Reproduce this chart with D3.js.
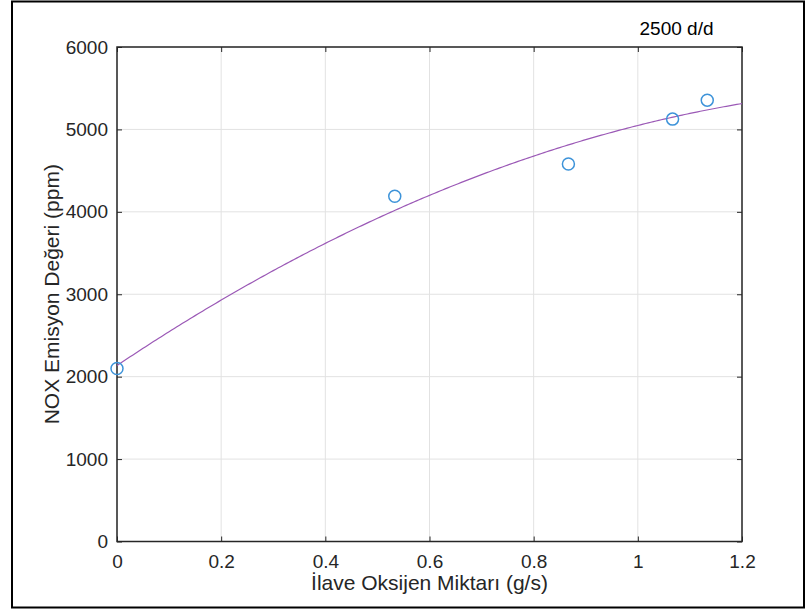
<!DOCTYPE html>
<html>
<head>
<meta charset="utf-8">
<script src="https://cdn.jsdelivr.net/npm/d3@7"></script>
<style>
  html, body { margin: 0; padding: 0; background: #fff; }
  svg { display: block; }
  text { font-family: "Liberation Sans", Arial, sans-serif; }
</style>
</head>
<body>
<script>
// ---- data ----
const oxygen = [0, 0.5333, 0.8667, 1.0667, 1.1333];      // İlave Oksijen Miktarı (g/s)
const nox = [2100, 4190, 4580, 5125, 5355];             // NOX Emisyon Değeri (ppm)
const xTicks = [0, 0.2, 0.4, 0.6, 0.8, 1, 1.2];
const yTicks = [0, 1000, 2000, 3000, 4000, 5000, 6000];
const xDomain = [0, 1.2];
const yDomain = [0, 6000];
const annotation = "2500 d/d";
const xLabel = "İlave Oksijen Miktarı (g/s)";
const yLabel = "NOX Emisyon Değeri (ppm)";

// quadratic least-squares fit of the data points
function polyfit2(xs, ys) {
  const n = xs.length;
  let s = [0,0,0,0,0], t = [0,0,0];
  for (let i = 0; i < n; i++) {
    const xv = xs[i], yv = ys[i];
    for (let k = 0; k < 5; k++) s[k] += Math.pow(xv, k);
    for (let k = 0; k < 3; k++) t[k] += yv * Math.pow(xv, k);
  }
  const A = [[s[0], s[1], s[2], t[0]], [s[1], s[2], s[3], t[1]], [s[2], s[3], s[4], t[2]]];
  for (let i = 0; i < 3; i++) {
    for (let j = i + 1; j < 3; j++) {
      const f = A[j][i] / A[i][i];
      for (let k = i; k < 4; k++) A[j][k] -= f * A[i][k];
    }
  }
  const c = [0,0,0];
  for (let i = 2; i >= 0; i--) {
    let v = A[i][3];
    for (let k = i + 1; k < 3; k++) v -= A[i][k] * c[k];
    c[i] = v / A[i][i];
  }
  return c;
}
const coef = polyfit2(oxygen, nox);

const W = 807, H = 612;
const L = 117, T = 47, R = 742, B = 541.5;
const svg = d3.select("body").append("svg").attr("width", W).attr("height", H);

// figure border
svg.append("rect").attr("x", 12).attr("y", 1.5).attr("width", 792).attr("height", 606)
  .attr("fill", "#fff").attr("stroke", "#000").attr("stroke-width", 2);

const x = d3.scaleLinear().domain(xDomain).range([L, R]);
const y = d3.scaleLinear().domain(yDomain).range([B, T]);

const g = svg.append("g");
// grid
g.selectAll(".gx").data(xTicks).join("line")
  .attr("x1", d => x(d)).attr("x2", d => x(d)).attr("y1", T).attr("y2", B)
  .attr("stroke", "#e2e2e2").attr("stroke-width", 1);
g.selectAll(".gy").data(yTicks).join("line")
  .attr("y1", d => y(d)).attr("y2", d => y(d)).attr("x1", L).attr("x2", R)
  .attr("stroke", "#e2e2e2").attr("stroke-width", 1);

const axColor = "#262626";
const tickFont = 19;
function styleAxis(sel) {
  sel.select(".domain").remove();
  sel.selectAll(".tick line").attr("stroke", axColor);
  sel.selectAll(".tick text").attr("fill", axColor).style("font-size", tickFont + "px")
    .style("font-family", '"Liberation Sans", Arial, sans-serif');
}
svg.append("g").attr("transform", `translate(0,${B})`)
  .call(d3.axisBottom(x).tickValues(xTicks).tickFormat(d3.format("~g")).tickSizeInner(-5).tickSizeOuter(0).tickPadding(13))
  .call(styleAxis);
svg.append("g").attr("transform", `translate(0,${T})`)
  .call(d3.axisTop(x).tickValues(xTicks).tickFormat("").tickSizeInner(-5).tickSizeOuter(0))
  .call(styleAxis);
svg.append("g").attr("transform", `translate(${L},0)`)
  .call(d3.axisLeft(y).tickValues(yTicks).tickFormat(d3.format("d")).tickSizeInner(-5).tickSizeOuter(0).tickPadding(9))
  .call(styleAxis);
svg.append("g").attr("transform", `translate(${R},0)`)
  .call(d3.axisRight(y).tickValues(yTicks).tickFormat("").tickSizeInner(-5).tickSizeOuter(0))
  .call(styleAxis);

// box
svg.append("rect").attr("x", L).attr("y", T).attr("width", R - L).attr("height", B - T)
  .attr("fill", "none").attr("stroke", axColor).attr("stroke-width", 1.5);

// fitted curve
const xs = d3.range(0, 241).map(i => xDomain[0] + (xDomain[1] - xDomain[0]) * i / 240);
const line = d3.line().x(d => x(d)).y(d => y(coef[0] + coef[1] * d + coef[2] * d * d));
svg.append("path").datum(xs).attr("d", line).attr("fill", "none")
  .attr("stroke", "#9b59b6").attr("stroke-width", 1.2);

// data points
svg.selectAll(".pt").data(oxygen).join("circle")
  .attr("cx", d => x(d)).attr("cy", (d, i) => y(nox[i])).attr("r", 6)
  .attr("fill", "none").attr("stroke", "#3d93d9").attr("stroke-width", 1.5);

// labels
svg.append("text").attr("x", (L + R) / 2).attr("y", 590).attr("text-anchor", "middle")
  .attr("fill", axColor).style("font-size", "21px").text(xLabel);
svg.append("text").attr("transform", `translate(59,${(T + B) / 2}) rotate(-90)`)
  .attr("text-anchor", "middle").attr("fill", axColor).style("font-size", "21px").text(yLabel);
svg.append("text").attr("x", 676.5).attr("y", 35).attr("text-anchor", "middle")
  .attr("fill", "#000").style("font-size", "19px").text(annotation);
</script>
</body>
</html>
